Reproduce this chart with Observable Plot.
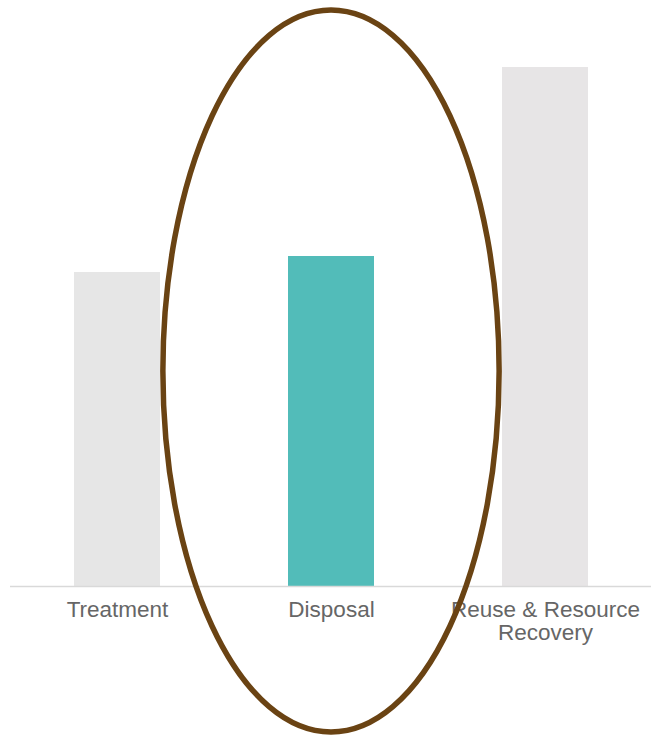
<!DOCTYPE html>
<html>
<head>
<meta charset="utf-8">
<script src="https://cdn.jsdelivr.net/npm/d3@7"></script>
<script src="https://cdn.jsdelivr.net/npm/@observablehq/plot@0.6"></script>
<style>
  html, body { margin: 0; padding: 0; background: #ffffff; }
  #chart svg { display: block; }
</style>
</head>
<body>
<div id="chart"></div>
<script>
const categories = ["Treatment", "Disposal", "Reuse & Resource Recovery"];
const values = [314, 330, 519];
const tickLabels = ["Treatment", "Disposal", "Reuse & Resource\nRecovery"];
const highlighted = "Disposal";

const data = categories.map((c, i) => ({category: c, value: values[i]}));
const labelOf = new Map(categories.map((c, i) => [c, tickLabels[i]]));

const ellipseMark = (index, scales, values, dimensions) => {
  const x = scales.x;
  const cx = x(highlighted) + x.bandwidth() / 2;
  const cy = dimensions.height / 2 + 3;
  const ry = dimensions.height / 2 - 7;
  const rx = x.bandwidth() * 1.955;
  const e = document.createElementNS("http://www.w3.org/2000/svg", "ellipse");
  e.setAttribute("cx", cx);
  e.setAttribute("cy", cy);
  e.setAttribute("rx", rx);
  e.setAttribute("ry", ry);
  e.setAttribute("fill", "none");
  e.setAttribute("stroke", "#6a4313");
  e.setAttribute("stroke-width", 5.5);
  return e;
};

const chart = Plot.plot({
  width: 651,
  height: 736,
  marginLeft: 10,
  marginRight: 0,
  marginTop: 67,
  marginBottom: 150,
  style: {fontFamily: "'Liberation Sans', Arial, sans-serif", background: "#ffffff"},
  x: {domain: categories, paddingInner: 0.6, paddingOuter: 0.294, align: 0.5, axis: null},
  y: {domain: [0, d3.max(values)], axis: null},
  marks: [
    Plot.barY(data, {
      x: "category",
      y: "value",
      fill: d => d.category === highlighted ? "#52bcb9" : (d.category === "Treatment" ? "#e6e6e6" : "#e7e5e6")
    }),
    Plot.ruleY([0], {stroke: "#d9d9d9", strokeWidth: 1.5}),
    Plot.axisX({
      tickSize: 0,
      tickPadding: 15,
      fontSize: 22.5,
      fill: "#666666",
      tickFormat: d => labelOf.get(d),
      lineHeight: 1.0,
      label: null
    }),
    ellipseMark
  ]
});

document.getElementById("chart").appendChild(chart);
</script>
</body>
</html>
